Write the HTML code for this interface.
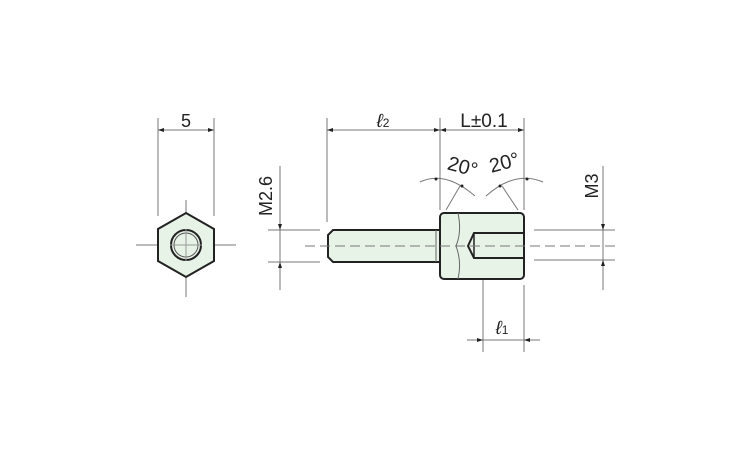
<!DOCTYPE html>
<html><head><style>body{margin:0;background:#fff}svg{display:block}text{font-family:"Liberation Sans",sans-serif;fill:#222}</style></head><body>
<svg width="750" height="450" viewBox="0 0 750 450" xmlns="http://www.w3.org/2000/svg">
<g stroke="#777" stroke-width="1" fill="none">
<line x1="158" y1="118" x2="158" y2="216"/><line x1="214" y1="118" x2="214" y2="216"/>
<line x1="158" y1="130" x2="214" y2="130"/>
<line x1="136" y1="245" x2="236" y2="245"/><line x1="186" y1="200" x2="186" y2="297"/>
<line x1="327" y1="118" x2="327" y2="222"/><line x1="440" y1="118" x2="440" y2="210"/><line x1="524" y1="118" x2="524" y2="210"/>
<line x1="327" y1="130" x2="524" y2="130"/>
<line x1="280" y1="166" x2="280" y2="290"/><line x1="268" y1="230" x2="320" y2="230"/><line x1="268" y1="262" x2="320" y2="262"/>
<line x1="603" y1="166" x2="603" y2="290"/><line x1="534" y1="230" x2="615" y2="230"/><line x1="534" y1="260" x2="615" y2="260"/>
<line x1="483" y1="262" x2="483" y2="352"/><line x1="524" y1="285" x2="524" y2="352"/><line x1="467" y1="340" x2="540" y2="340"/>
<path d="M420 182 Q445 170 475 196"/><path d="M486 196 Q515 170 543 182"/>
<line x1="446" y1="210" x2="460" y2="186"/><line x1="518" y1="210" x2="502" y2="186"/>
</g>
<g fill="#222">
<polygon points="327,130 333,128 333,132"/><polygon points="440,130 434,128 434,132"/><polygon points="440,130 446,128 446,132"/><polygon points="524,130 518,128 518,132"/>
<polygon points="158,130 164,128 164,132"/><polygon points="214,130 208,128 208,132"/>
<polygon points="280,230 278,224 282,224"/><polygon points="280,262 278,268 282,268"/>
<polygon points="603,230 601,224 605,224"/><polygon points="603,260 601,266 605,266"/>
<polygon points="483,340 477,338 477,342"/><polygon points="524,340 530,338 530,342"/>
<circle cx="436" cy="179" r="1.5"/><circle cx="462" cy="186" r="1.5"/><circle cx="500" cy="186" r="1.5"/><circle cx="527" cy="179" r="1.5"/>
</g>
<polygon points="186,213 214,229 214,261 186,277 158,261 158,229" fill="#e8f3e8" stroke="#222" stroke-width="2"/>
<circle cx="186" cy="245" r="15" fill="#e8f3e8" stroke="#222" stroke-width="2"/>
<circle cx="186" cy="245" r="12" fill="none" stroke="#555" stroke-width="1"/>
<line x1="170" y1="245" x2="202" y2="245" stroke="#999"/><line x1="186" y1="229" x2="186" y2="261" stroke="#999"/>
<path d="M333,230 L441,230 L441,262 L333,262 L328,257 L328,235 Z" fill="#e8f3e8" stroke="#222" stroke-width="2"/>
<line x1="436" y1="230" x2="436" y2="262" stroke="#666"/>
<rect x="440" y="213" width="84" height="66" rx="4" fill="#e8f3e8" stroke="#222" stroke-width="2"/>
<path d="M458 213 Q462 232 456 246 Q462 262 458 279" fill="none" stroke="#666"/>
<path d="M524,233 L474,233 L468,246 L474,258 L524,258" fill="none" stroke="#222" stroke-width="2"/>
<line x1="474" y1="233" x2="474" y2="258" stroke="#222" stroke-width="1.5"/>
<line x1="305" y1="246" x2="615" y2="246" stroke="#777" stroke-dasharray="10,5"/>
<text x="186" y="127" font-size="18" text-anchor="middle">5</text>
<text x="383" y="127" font-size="19" font-style="italic" text-anchor="middle">ℓ<tspan font-size="12" font-style="normal">2</tspan></text>
<text x="484" y="127" font-size="19" text-anchor="middle">L±0.1</text>
<text x="461" y="173" font-size="20" transform="rotate(15 461 173)" text-anchor="middle">20°</text>
<text x="506" y="169" font-size="20" transform="rotate(-15 506 169)" text-anchor="middle">20°</text>
<text transform="translate(272 196) rotate(-90)" font-size="18" text-anchor="middle">M2.6</text>
<text transform="translate(598 186) rotate(-90)" font-size="18" text-anchor="middle">M3</text>
<text x="502" y="334" font-size="19" font-style="italic" text-anchor="middle">ℓ<tspan font-size="12" font-style="normal">1</tspan></text>
</svg>
</body></html>
